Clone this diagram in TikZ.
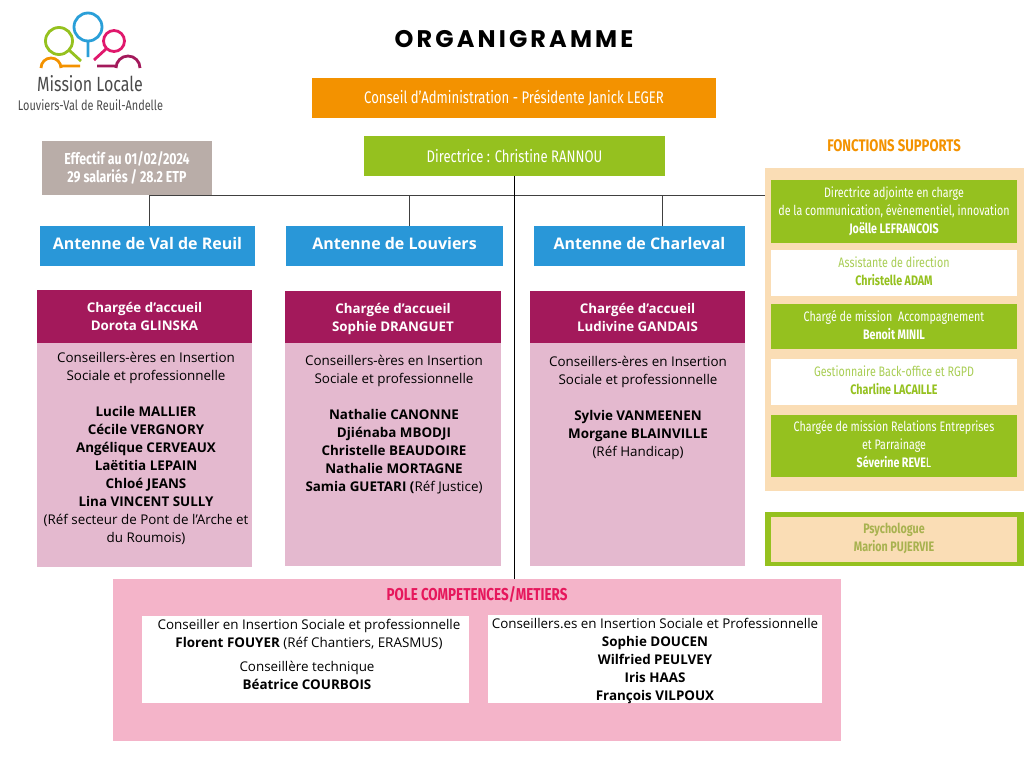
\documentclass[tikz,border=0pt]{standalone}
\usepackage{fontspec}
\setmainfont{Open Sans}
\newfontfamily\narrowfont[FakeStretch=0.78]{Fira Sans}
\newfontfamily\titlefont[LetterSpace=13]{Poppins}
\definecolor{caorange}{HTML}{F39200}
\definecolor{leafgreen}{HTML}{95C11F}
\definecolor{taupe}{HTML}{B9ADA8}
\definecolor{skyblue}{HTML}{2997D8}
\definecolor{plum}{HTML}{A3195B}
\definecolor{mauve}{HTML}{E4B9CF}
\definecolor{polepink}{HTML}{F4B4C9}
\definecolor{polered}{HTML}{E6175C}
\definecolor{peach}{HTML}{FADDB5}
\definecolor{softgreen}{HTML}{A9CE55}
\definecolor{olivetext}{HTML}{A8B24F}
\definecolor{logopink}{HTML}{E0186C}
\definecolor{logoblue}{HTML}{2A9FD8}
\definecolor{inkgrey}{HTML}{4A4A4A}
\tikzset{
  box/.style={rectangle,inner sep=0pt,outer sep=0pt,align=center},
  narrowtext/.style={font=\narrowfont\fontsize{10.3}{13.5}\selectfont},
  headtext/.style={font=\narrowfont\fontsize{12.6}{15}\selectfont},
  opentext/.style={font=\fontsize{10.05}{13.5}\selectfont,text=black},
  support/.style={box,narrowtext,minimum width=184.5pt,text=white},
  antenne/.style={box,fill=skyblue,text=white,minimum height=30pt,text depth=4.5pt,font=\bfseries\fontsize{12}{14}\selectfont},
  accueil/.style={box,fill=plum,text=white,text depth=-3.5pt,font=\bfseries\fontsize{10}{13.5}\selectfont},
  panel/.style={box,fill=mauve},
  logoline/.style={line width=2.1pt}
}
\begin{document}
\begin{tikzpicture}[x=0.75pt,y=-0.75pt]
  \useasboundingbox (0,0) rectangle (1024,768);
  % logo
  \draw[logoline,leafgreen] (59,41) circle (13.5) (69,50) -- (81,61);
  \draw[logoline,logoblue] (88,27) circle (14) (88,41) -- (88,57);
  \draw[logoline,logopink] (114,41) circle (10.5) (106,49) -- (94,60);
  \draw[logoline,caorange] (41,68) arc (180:360:10) (61,66) -- (80,66);
  \draw[logoline,plum] (116,68) arc (180:360:12) (97,66) -- (116,66);
  \node[box,text=inkgrey,font=\narrowfont\fontsize{15.4}{18}\selectfont] (logoname) at (90,84) {Mission Locale};
  \node[box,text=inkgrey,font=\narrowfont\fontsize{10.5}{14}\selectfont] (logoplace) at (90.5,105) {Louviers-Val de Reuil-Andelle};
  % head
  \node[box,font=\titlefont\fontsize{18}{20}\selectfont\bfseries] (title) at (514,39) {ORGANIGRAMME};
  \node[box,fill=caorange,text=white,headtext,minimum width=303pt,minimum height=30pt] (conseil) at (514,98) {Conseil d’Administration - Présidente Janick LEGER};
  \node[box,fill=leafgreen,text=white,headtext,minimum width=225.75pt,minimum height=30pt] (directrice) at (514.5,156) {Directrice : Christine RANNOU};
  \node[box,fill=taupe,text=white,minimum width=127.5pt,minimum height=40.5pt,font=\narrowfont\bfseries\fontsize{11.9}{14}\selectfont] (effectif) at (127,168) {Effectif au 01/02/2024\\29 salariés / 28.2 ETP};
  % antennes
  \node[antenne,minimum width=161.25pt] (valdereuil) at (147.5,246) {Antenne de Val de Reuil};
  \node[antenne,minimum width=162.75pt] (louviers) at (394.5,246) {Antenne de Louviers};
  \node[antenne,minimum width=158.25pt] (charleval) at (639.5,246) {Antenne de Charleval};
  \node[accueil,minimum width=161.25pt,minimum height=39.75pt] (accueilA) at (144.5,316.5) {Chargée d’accueil\\Dorota GLINSKA};
  \node[accueil,minimum width=162pt,minimum height=39pt] (accueilB) at (393,317) {Chargée d’accueil\\Sophie DRANGUET};
  \node[accueil,minimum width=161.25pt,minimum height=39pt] (accueilC) at (637.5,317) {Chargée d’accueil\\Ludivine GANDAIS};
  \node[panel,minimum width=161.25pt,minimum height=168pt] (panelA) at (144.5,455) {};
  \node[panel,minimum width=162pt,minimum height=167.25pt] (panelB) at (393,454.5) {};
  \node[panel,minimum width=161.25pt,minimum height=167.25pt] (panelC) at (637.5,454.5) {};
  \node[box,opentext] (equipeA) at (146,448) {Conseillers-ères en Insertion\\Sociale et professionnelle\\[13.5pt]
    \textbf{Lucile MALLIER}\\\textbf{Cécile VERGNORY}\\\textbf{Angélique CERVEAUX}\\\textbf{Laëtitia LEPAIN}\\\textbf{Chloé JEANS}\\\textbf{Lina VINCENT SULLY}\\(Réf secteur de Pont de l’Arche et\\du Roumois)};
  \node[box,opentext] (equipeB) at (394,425) {Conseillers-ères en Insertion\\Sociale et professionnelle\\[13.5pt]
    \textbf{Nathalie CANONNE}\\\textbf{Djiénaba MBODJI}\\\textbf{Christelle BEAUDOIRE}\\\textbf{Nathalie MORTAGNE}\\\textbf{Samia GUETARI (}Réf Justice)};
  \node[box,opentext] (equipeC) at (638,408) {Conseillers-ères en Insertion\\Sociale et professionnelle\\[13.5pt]
    \textbf{Sylvie VANMEENEN}\\\textbf{Morgane BLAINVILLE}\\(Réf Handicap)};
  % fonctions supports
  \node[box,text=caorange,font=\narrowfont\bfseries\fontsize{12.6}{15}\selectfont] (supportstitle) at (894,146) {FONCTIONS SUPPORTS};
  \node[box,fill=peach,minimum width=194.25pt,minimum height=242.25pt] (supports) at (894.5,329.5) {};
  \node[support,fill=leafgreen,minimum height=47.25pt] (adjointe) at (894,211.5) {Directrice adjointe en charge\\de la communication, évènementiel, innovation\\\textbf{Joëlle LEFRANCOIS}};
  \node[support,fill=white,text=softgreen,minimum height=34.5pt,text depth=3pt] (assistante) at (894,273) {Assistante de direction\\\textcolor{leafgreen}{\textbf{Christelle ADAM}}};
  \node[support,fill=leafgreen,minimum height=33.75pt,text depth=2pt] (accompagnement) at (894,326.5) {Chargé de mission~ Accompagnement\\\textbf{Benoit MINIL}};
  \node[support,fill=white,text=softgreen,minimum height=34.5pt,text depth=3pt] (gestionnaire) at (894,382) {Gestionnaire Back-office et RGPD\\\textcolor{leafgreen}{\textbf{Charline LACAILLE}}};
  \node[support,fill=leafgreen,minimum height=46.5pt,text depth=3pt] (relations) at (894,446) {Chargée de mission Relations Entreprises\\et Parrainage\\\textbf{Séverine REVE}L};
  \node[box,fill=leafgreen,minimum width=194.25pt,minimum height=40.5pt] (psyframe) at (894.5,539) {};
  \node[support,fill=peach,text=olivetext,minimum height=33.75pt,text depth=4pt] (psychologue) at (894,539.5) {\textbf{Psychologue}\\\textbf{Marion PUJERVIE}};
  % pole
  \node[box,fill=polepink,minimum width=546pt,minimum height=121.5pt] (pole) at (477,660) {};
  \node[box,text=polered,font=\narrowfont\bfseries\fontsize{12.9}{15}\selectfont] (poletitle) at (477,594) {POLE COMPETENCES/METIERS};
  \node[box,fill=white,minimum width=245.25pt,minimum height=65.25pt] (polegauche) at (305.5,659.5) {};
  \node[box,fill=white,minimum width=250.5pt,minimum height=66pt] (poledroite) at (655,659) {};
  \node[box,opentext] (chantiers) at (309,634.5) {Conseiller en Insertion Sociale et professionnelle\\\textbf{Florent FOUYER} (Réf Chantiers, ERASMUS)};
  \node[box,opentext] (technique) at (307,675) {Conseillère technique\\\textbf{Béatrice COURBOIS}};
  \node[box,opentext] (conseillers) at (655,661) {Conseillers.es en Insertion Sociale et Professionnelle\\\textbf{Sophie DOUCEN}\\\textbf{Wilfried PEULVEY}\\\textbf{Iris HAAS}\\\textbf{François VILPOUX}};
  % liens
  \coordinate (busA) at (149,195.5);
  \coordinate (busB) at (409,195.5);
  \coordinate (busC) at (662,195.5);
  \coordinate (topA) at (149,226);
  \coordinate (topB) at (409,226);
  \coordinate (topC) at (662,226);
  \begin{scope}[line width=0.75pt,black!75]
    \draw (busA) to (busA -| supports.west);
    \draw (busA) to (topA);
    \draw (busB) to (topB);
    \draw (busC) to (topC);
    \draw[black] (directrice.south) to (directrice.south |- pole.north);
  \end{scope}
\end{tikzpicture}
\end{document}
